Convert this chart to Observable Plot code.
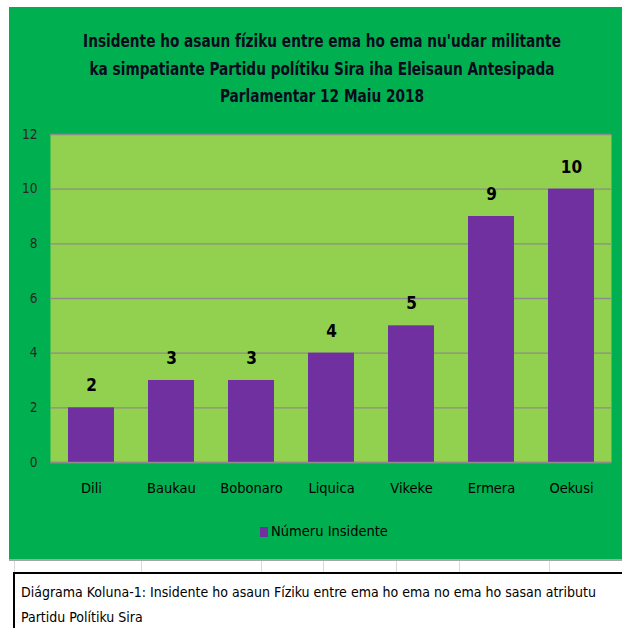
<!DOCTYPE html>
<html>
<head>
<meta charset="utf-8">
<script src="https://cdn.jsdelivr.net/npm/d3@7"></script>
<script src="https://cdn.jsdelivr.net/npm/@observablehq/plot@0.6"></script>
<style>
  html, body { margin: 0; padding: 0; background: #fff; overflow: hidden; }
  body { width: 622px; height: 628px; position: relative;
         font-family: "Liberation Sans Narrow", "DejaVu Sans Condensed", "Liberation Sans", sans-serif; }
  #panel { position: absolute; left: 9px; top: 7px; width: 613px; height: 552px;
           background: #00b050; border-bottom: 2px solid #a6a6a6; }
  #title { position: absolute; left: 0; top: 21px; width: 626px; text-align: center;
           font-weight: bold; font-size: 17px; line-height: 27.5px; color: #0a0a1e;
           transform: scaleX(0.895); transform-origin: 50% 50%; }
  #chart { position: absolute; left: 0; top: 113px; }
  #legend { position: absolute; left: 0; top: 515px; width: 630px; text-align: center;
            font-size: 14.5px; line-height: 18px; color: #000; }
  #legend .sw { display: inline-block; width: 8px; height: 10px; background: #7030a0;
                margin-right: 3px; vertical-align: -1px; }
  .cell { position: absolute; top: 561px; height: 11px; width: 1px; background: #d9d9d9; }
  #caption { position: absolute; left: 13px; top: 572px; width: 609px; height: 70px;
             border: 2px solid #000; border-right: none; background: #fff; box-sizing: border-box;
             padding-left: 6px; padding-top: 6px; font-size: 14px; line-height: 25px; color: #000;
             white-space: nowrap; overflow: hidden; }
</style>
</head>
<body>
<div id="panel">
  <div id="title">Insidente ho asaun fíziku entre ema ho ema nu'udar militante<br>ka simpatiante Partidu polítiku Sira iha Eleisaun Antesipada<br>Parlamentar 12 Maiu 2018</div>
  <div id="chart"></div>
  <div id="legend"><span class="sw"></span>Númeru Insidente</div>
</div>
<div class="cell" style="left:14px"></div>
<div class="cell" style="left:141px"></div>
<div class="cell" style="left:261px"></div>
<div class="cell" style="left:323px"></div>
<div class="cell" style="left:396px"></div>
<div class="cell" style="left:459px"></div>
<div class="cell" style="left:549px"></div>
<div id="caption">Diágrama Koluna-1: Insidente ho asaun Fíziku entre ema ho ema no ema ho sasan atributu<br>Partidu Polítiku Sira</div>
<script>
const categories = ["Dili", "Baukau", "Bobonaro", "Liquica", "Vikeke", "Ermera", "Oekusi"];
const values = [2, 3, 3, 4, 5, 9, 10];
const yTicks = [0, 2, 4, 6, 8, 10, 12];

const data = categories.map((c, i) => ({ district: c, value: values[i] }));

const chart = Plot.plot({
  width: 613,
  height: 390,
  marginLeft: 41,
  marginRight: 11,
  marginTop: 14,
  marginBottom: 48,
  style: { background: "transparent", fontFamily: "'Liberation Sans Narrow', 'DejaVu Sans Condensed', sans-serif", overflow: "visible" },
  x: { domain: categories, paddingInner: 0.425, paddingOuter: 0.2125, label: null },
  y: { domain: [0, 12], ticks: yTicks, label: null },
  marks: [
    Plot.frame({ fill: "#92d050", stroke: null }),
    Plot.ruleY(yTicks, { stroke: "#8c8c8c", strokeWidth: 1.3 }),
    Plot.barY(data, { x: "district", y: "value", fill: "#7030a0" }),
    Plot.ruleY([0], { stroke: "#8c8c8c", strokeWidth: 1.5 }),
    Plot.text(data, { x: "district", y: "value", text: d => String(d.value), dy: -22,
      fontWeight: "bold", fontSize: 17, fill: "#000" }),
    Plot.axisY({ ticks: yTicks, tickSize: 0, tickPadding: 13, fontSize: 13.5, color: "#262626", label: null }),
    Plot.axisX({ tickSize: 0, tickPadding: 20, fontSize: 14.5, color: "#000", label: null })
  ]
});
document.getElementById("chart").appendChild(chart);
</script>
</body>
</html>
